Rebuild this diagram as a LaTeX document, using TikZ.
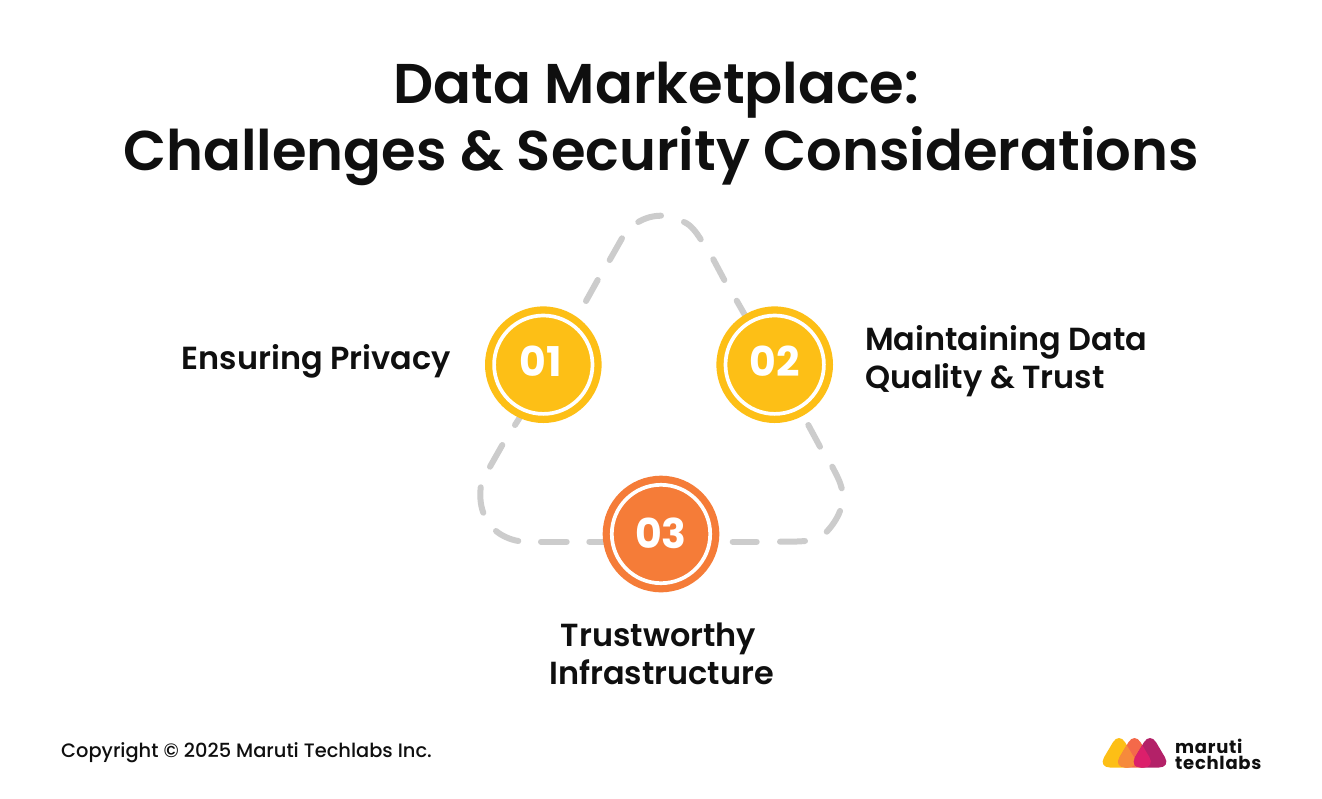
\documentclass[tikz,border=0pt]{standalone}
\usepackage{fontspec}
\setmainfont{Poppins}
\newfontfamily\popsemi{Poppins}[UprightFont=* SemiBold]
\newfontfamily\popmed{Poppins}[UprightFont=* Medium]
\newfontfamily\popbold{Poppins}[UprightFont=* Bold]
\newfontfamily\poplogo{Poppins}[UprightFont=* Bold,LetterSpace=4]
\definecolor{inkc}{HTML}{0F0F0F}
\definecolor{yel}{HTML}{FDBF16}
\definecolor{org}{HTML}{F57C38}
\definecolor{loopc}{HTML}{CCCCCC}
\definecolor{lgorg}{HTML}{F4694A}
\definecolor{lgmix}{HTML}{F68A3C}
\definecolor{lgcrim}{HTML}{DC1F6B}
\definecolor{lgdark}{HTML}{B32168}
\newcommand{\lgtri}[1]{[rounded corners=12pt] (#1,732) -- (#1-21,767.5) -- (#1+21,767.5) -- cycle}
\tikzset{
  x=1pt,y=-1pt,
  titletext/.style={font=\popsemi\fontsize{56}{67}\selectfont,text=inkc,align=center,inner sep=0},
  labeltext/.style={font=\popsemi\fontsize{31.9}{38.5}\selectfont,text=inkc,align=left,inner sep=0},
  loopdash/.style={draw=loopc,line width=6pt,line cap=round},
  badge/.style={circle,minimum size=116.6pt,inner sep=0},
  ringline/.style={draw=white,line width=3.7pt},
  numtext/.style={text=white,inner sep=0,font=\popbold\fontsize{41}{48}\selectfont},
}
\begin{document}
\begin{tikzpicture}
\useasboundingbox (0,0) rectangle (1322,798);
\fill[white] (0,0) rectangle (1322,798);
\node[titletext] (title) at (661,123.5) {Data Marketplace:\hspace*{9pt}\\Challenges \& Security Considerations};
% dashed loop
\draw[loopdash] (515,425) -- (522,414);
\draw[loopdash] (586,301) -- (597.7,280);
\draw[loopdash] (609.7,260) -- (622,238.3);
\draw[loopdash] (638.3,222) .. controls (645,218) and (653,215.7) .. (661,215.7);
\draw[loopdash] (684,222) .. controls (691,225) and (696,232) .. (700.7,239.3);
\draw[loopdash] (713.3,259.3) -- (724.3,280);
\draw[loopdash] (736.7,300.7) -- (746,317);
\draw[loopdash] (808.3,425) -- (820,446.7);
\draw[loopdash] (832.3,466.7) .. controls (836,474) and (840,481) .. (841.7,488.3);
\draw[loopdash] (840,511) .. controls (837,519) and (832,526) .. (826.7,531.7);
\draw[loopdash] (805,541) .. controls (797,541.7) and (790,541.7) .. (780,541.7);
\draw[loopdash] (756.7,541.7) -- (732.7,541.7);
\draw[loopdash] (604,541.7) -- (589.3,541.7);
\draw[loopdash] (566.7,541.7) -- (541,541.7);
\draw[loopdash] (518.3,541) .. controls (510,539.5) and (502,536) .. (496,531);
\draw[loopdash] (483.3,512.7) .. controls (480,504) and (480,495) .. (480.7,487.3);
\draw[loopdash] (490,466.7) -- (502.3,445);
% badges
\node[badge,fill=yel] (b1) at (543.3,364.7) {};
\node[badge,fill=yel] (b2) at (774.7,364.7) {};
\node[badge,fill=org] (b3) at (661,534) {};
\draw[ringline] (b1) circle (49.2);
\draw[ringline] (b2) circle (49.2);
\draw[ringline] (b3) circle (49.2);
\node[numtext] (n1) at (540.5,361.5) {01};
\node[numtext] (n2) at (775,361.5) {02};
\node[numtext] (n3) at (661,533) {03};
% labels
\node[labeltext,anchor=east] (l1) at (451,361) {Ensuring Privacy};
\node[labeltext,anchor=west] (l2) at (865,361) {Maintaining Data\\Quality \& Trust};
\node[labeltext,align=center] (l3) at (661.5,654) {Trustworthy\hspace*{6pt}\\Infrastructure};
\node[font=\popmed\fontsize{19.4}{24}\selectfont,text=inkc,anchor=west,inner sep=0] (copy) at (61,753) {Copyright © 2025 Maruti Techlabs Inc.};
% logo
\fill[yel] \lgtri{1119};
\fill[lgorg] \lgtri{1134.5};
\fill[lgdark] \lgtri{1150};
\begin{scope}
  \clip \lgtri{1119};
  \fill[lgmix] \lgtri{1134.5};
\end{scope}
\begin{scope}
  \clip \lgtri{1134.5};
  \fill[lgcrim] \lgtri{1150};
\end{scope}
\node[font=\poplogo\fontsize{18}{16}\selectfont,text=inkc,align=left,anchor=west,inner sep=0] (logo) at (1175,754) {maruti\\techlabs};
\end{tikzpicture}
\end{document}
